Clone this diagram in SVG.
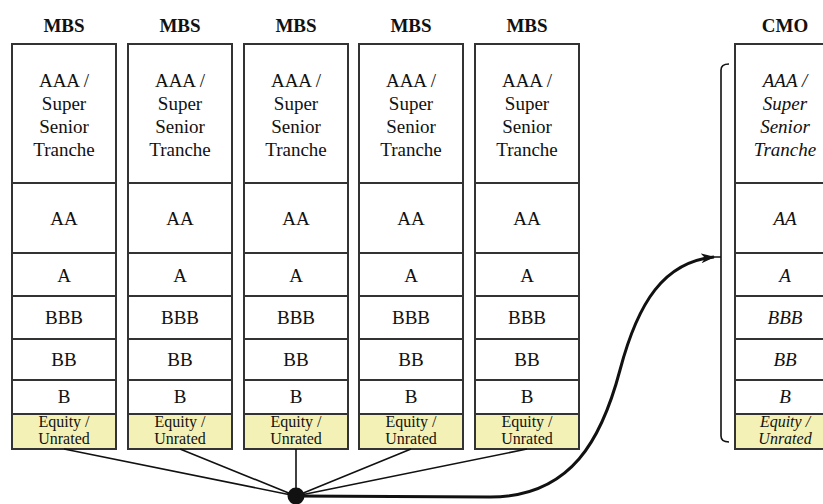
<svg xmlns="http://www.w3.org/2000/svg" width="823" height="504" viewBox="0 0 823 504">
<defs>
<style>
.cell{fill:#fff;stroke:#333;stroke-width:2}
.eq{fill:#f4f1b6;stroke:#333;stroke-width:2}
.t{font-family:"Liberation Serif","Times New Roman",serif;font-size:19px;fill:#111;text-anchor:middle}
.h{font-family:"Liberation Serif","Times New Roman",serif;font-size:19px;font-weight:bold;fill:#111;text-anchor:middle}
.s{font-family:"Liberation Serif","Times New Roman",serif;font-size:16px;fill:#111;text-anchor:middle}
.i{font-style:italic}
.ln{fill:none;stroke:#111;stroke-width:1.6}
</style>
<marker id="arr" viewBox="0 0 14 10" refX="13" refY="5" markerWidth="14" markerHeight="10" markerUnits="userSpaceOnUse" orient="auto">
<path d="M0,0 L14,5 L0,10 L4,5 Z" fill="#111"/>
</marker>
<g id="col">
<rect class="cell" x="0" y="44" width="104" height="139"/>
<rect class="cell" x="0" y="183" width="104" height="70"/>
<rect class="cell" x="0" y="253" width="104" height="43"/>
<rect class="cell" x="0" y="296" width="104" height="43"/>
<rect class="cell" x="0" y="339" width="104" height="41"/>
<rect class="cell" x="0" y="380" width="104" height="34"/>
<rect class="eq" x="0" y="414" width="104" height="35"/>
</g>
</defs>
<g id="mbs1">
<use href="#col" x="12"/>
<text class="h" x="64" y="32">MBS</text>
<text class="t" x="64" y="87">AAA /</text><text class="t" x="64" y="110">Super</text><text class="t" x="64" y="133">Senior</text><text class="t" x="64" y="156">Tranche</text>
<text class="t" x="64" y="225">AA</text><text class="t" x="64" y="282">A</text><text class="t" x="64" y="324">BBB</text><text class="t" x="64" y="366">BB</text><text class="t" x="64" y="403">B</text>
<text class="s" x="64" y="427">Equity /</text><text class="s" x="64" y="444">Unrated</text>
</g>
<g id="mbs2">
<use href="#col" x="128"/>
<text class="h" x="180" y="32">MBS</text>
<text class="t" x="180" y="87">AAA /</text><text class="t" x="180" y="110">Super</text><text class="t" x="180" y="133">Senior</text><text class="t" x="180" y="156">Tranche</text>
<text class="t" x="180" y="225">AA</text><text class="t" x="180" y="282">A</text><text class="t" x="180" y="324">BBB</text><text class="t" x="180" y="366">BB</text><text class="t" x="180" y="403">B</text>
<text class="s" x="180" y="427">Equity /</text><text class="s" x="180" y="444">Unrated</text>
</g>
<g id="mbs3">
<use href="#col" x="244"/>
<text class="h" x="296" y="32">MBS</text>
<text class="t" x="296" y="87">AAA /</text><text class="t" x="296" y="110">Super</text><text class="t" x="296" y="133">Senior</text><text class="t" x="296" y="156">Tranche</text>
<text class="t" x="296" y="225">AA</text><text class="t" x="296" y="282">A</text><text class="t" x="296" y="324">BBB</text><text class="t" x="296" y="366">BB</text><text class="t" x="296" y="403">B</text>
<text class="s" x="296" y="427">Equity /</text><text class="s" x="296" y="444">Unrated</text>
</g>
<g id="mbs4">
<use href="#col" x="359"/>
<text class="h" x="411" y="32">MBS</text>
<text class="t" x="411" y="87">AAA /</text><text class="t" x="411" y="110">Super</text><text class="t" x="411" y="133">Senior</text><text class="t" x="411" y="156">Tranche</text>
<text class="t" x="411" y="225">AA</text><text class="t" x="411" y="282">A</text><text class="t" x="411" y="324">BBB</text><text class="t" x="411" y="366">BB</text><text class="t" x="411" y="403">B</text>
<text class="s" x="411" y="427">Equity /</text><text class="s" x="411" y="444">Unrated</text>
</g>
<g id="mbs5">
<use href="#col" x="475"/>
<text class="h" x="527" y="32">MBS</text>
<text class="t" x="527" y="87">AAA /</text><text class="t" x="527" y="110">Super</text><text class="t" x="527" y="133">Senior</text><text class="t" x="527" y="156">Tranche</text>
<text class="t" x="527" y="225">AA</text><text class="t" x="527" y="282">A</text><text class="t" x="527" y="324">BBB</text><text class="t" x="527" y="366">BB</text><text class="t" x="527" y="403">B</text>
<text class="s" x="527" y="427">Equity /</text><text class="s" x="527" y="444">Unrated</text>
</g>
<g id="cmo">
<use href="#col" x="735"/>
<text class="h" x="785" y="32">CMO</text>
<text class="t i" x="785" y="87">AAA /</text><text class="t i" x="785" y="110">Super</text><text class="t i" x="785" y="133">Senior</text><text class="t i" x="785" y="156">Tranche</text>
<text class="t i" x="785" y="225">AA</text><text class="t i" x="785" y="282">A</text><text class="t i" x="785" y="324">BBB</text><text class="t i" x="785" y="366">BB</text><text class="t i" x="785" y="403">B</text>
<text class="s i" x="785" y="427">Equity /</text><text class="s i" x="785" y="444">Unrated</text>
</g>
<g id="connectors">
<path class="ln" d="M64,449 L296,496 M180,449 L296,496 M411,449 L296,496 M527,449 L296,496"/>
<path class="ln" d="M296,449 L296,496" stroke-width="2.4"/>
<circle cx="296" cy="496" r="8.5" fill="#111"/>
<path d="M296,496 L490,497 C572,497 602,438 620,370 C638,302 664,262 714,257" fill="none" stroke="#111" stroke-width="3" marker-end="url(#arr)"/>
<path class="ln" d="M729,64 Q721,64 721,70 L721,436 Q721,442 729,442 M714,257 L721,257"/>
</g>
</svg>
